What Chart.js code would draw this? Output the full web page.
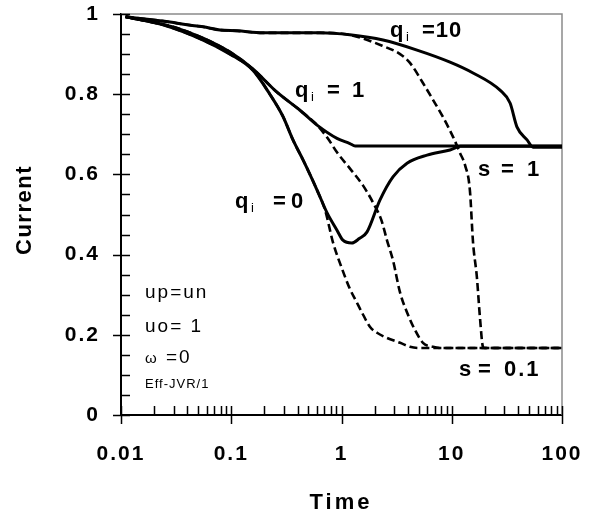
<!DOCTYPE html>
<html>
<head>
<meta charset="utf-8">
<script src="https://cdn.jsdelivr.net/npm/chart.js@4/dist/chart.umd.min.js"></script>
<style>
  html, body { margin: 0; padding: 0; background: #fff; }
  #wrap { width: 603px; height: 520px; }
</style>
</head>
<body>
<div id="wrap"><canvas id="c" width="603" height="520"></canvas></div>
<script>
// s = 1 curves (solid)
const timeS1Q0 = [0.011, 0.024, 0.0555, 0.0975, 0.157, 0.224, 0.294, 0.363, 0.448, 0.60, 0.74, 0.91, 1.03, 1.24, 1.45, 1.70, 2.23, 2.93, 3.93, 5.97, 9.64, 12, 100];
const currentS1Q0 = [0.993, 0.973, 0.935, 0.90, 0.86, 0.80, 0.745, 0.686, 0.636, 0.561, 0.504, 0.461, 0.436, 0.429, 0.44, 0.456, 0.536, 0.594, 0.628, 0.648, 0.661, 0.67, 0.67];

const timeS1Q1 = [0.011, 0.0296, 0.0555, 0.0975, 0.157, 0.26, 0.42, 0.60, 0.91, 1.19, 1.33, 100];
const currentS1Q1 = [0.993, 0.968, 0.94, 0.905, 0.863, 0.805, 0.76, 0.723, 0.69, 0.677, 0.671, 0.671];

const timeS1Q10 = [0.011, 0.0278, 0.0397, 0.0555, 0.079, 0.113, 0.194, 0.638, 1.19, 2.38, 4.84, 9.64, 15.6, 27.4, 33.8, 39.1, 48.2, 54.6, 100];
const currentS1Q10 = [0.993, 0.98, 0.973, 0.968, 0.96, 0.958, 0.953, 0.953, 0.948, 0.935, 0.91, 0.88, 0.853, 0.81, 0.778, 0.718, 0.686, 0.668, 0.668];

// s = 0.1 curves (dashed)
const timeS01Q0 = [0.011, 0.024, 0.0555, 0.0975, 0.157, 0.224, 0.294, 0.363, 0.448, 0.60, 0.71, 0.838, 1.01, 1.19, 1.38, 1.57, 1.81, 2.10, 2.59, 3.40, 4.18, 5.0, 100];
const currentS01Q0 = [0.993, 0.973, 0.935, 0.90, 0.86, 0.80, 0.745, 0.686, 0.636, 0.561, 0.511, 0.43, 0.365, 0.315, 0.28, 0.25, 0.22, 0.205, 0.192, 0.18, 0.17, 0.167, 0.167];

const timeS01Q1 = [0.011, 0.0296, 0.0555, 0.0975, 0.157, 0.26, 0.42, 0.60, 0.75, 0.91, 1.19, 1.57, 1.93, 2.30, 2.59, 2.93, 3.40, 4.01, 4.64, 5.48, 6.76, 8, 100];
const currentS01Q1 = [0.993, 0.968, 0.94, 0.905, 0.863, 0.805, 0.76, 0.723, 0.69, 0.655, 0.615, 0.572, 0.53, 0.486, 0.435, 0.386, 0.305, 0.25, 0.212, 0.18, 0.17, 0.167, 0.167];

const timeS01Q10 = [0.011, 0.0278, 0.0397, 0.0555, 0.079, 0.113, 0.194, 0.638, 1.19, 2.38, 3.40, 4.18, 5.48, 6.76, 8.33, 10.3, 11.9, 13.2, 14.6, 15.6, 16.9, 18.0, 19.2, 20, 100];
const currentS01Q10 = [0.993, 0.98, 0.973, 0.968, 0.96, 0.958, 0.953, 0.953, 0.948, 0.92, 0.90, 0.878, 0.828, 0.786, 0.743, 0.693, 0.653, 0.623, 0.561, 0.43, 0.344, 0.245, 0.17, 0.167, 0.167];

// axis ticks
const xTickValues = [0.01, 0.1, 1, 10, 100];
const xTickLabels = ['0.01', '0.1', '1', '10', '100'];
const yTickValues = [0, 0.2, 0.4, 0.6, 0.8, 1];
const yTickLabels = ['0', '0.2', '0.4', '0.6', '0.8', '1'];

const FONT = "'Liberation Sans', Arial, Helvetica, sans-serif";

function pts(ts, vs) { return ts.map((t, i) => ({ x: t, y: vs[i] })); }

function solid(ts, vs) {
  return { data: pts(ts, vs), borderColor: '#000', borderWidth: 3, pointRadius: 0,
           cubicInterpolationMode: 'monotone', fill: false };
}
function dashed(ts, vs) {
  return { data: pts(ts, vs), borderColor: '#000', borderWidth: 2.6, borderDash: [8, 4],
           pointRadius: 0, cubicInterpolationMode: 'monotone', fill: false };
}

// tick marks, frame, annotations and axis titles
const decorations = {
  id: 'decorations',
  beforeDraw(chart) {
    chart.ctx.letterSpacing = '2px';
  },
  beforeDatasetsDraw(chart) {
    const { ctx, chartArea: a } = chart;
    ctx.save();
    ctx.strokeStyle = '#8a8a8a';
    ctx.lineWidth = 1.5;
    ctx.beginPath();
    ctx.moveTo(a.left, a.top);
    ctx.lineTo(a.right, a.top);
    ctx.lineTo(a.right, a.bottom);
    ctx.stroke();
    ctx.restore();
  },
  afterDraw(chart) {
    const { ctx, chartArea: a, scales: { x, y } } = chart;
    ctx.save();
    ctx.strokeStyle = '#000';
    ctx.lineWidth = 1.5;
    ctx.beginPath();
    // y ticks every 0.05, majors every 0.2 also extend outside
    for (let k = 0; k <= 20; k++) {
      const py = Math.round(y.getPixelForValue(k * 0.05)) + 0.5;
      ctx.moveTo(a.left, py);
      ctx.lineTo(a.left + 9, py);
      if (k % 4 === 0) { ctx.moveTo(a.left - 8, py); ctx.lineTo(a.left, py); }
    }
    // x ticks at 1..9 of each decade
    for (let d = -2; d <= 2; d++) {
      for (let m = 1; m <= 9; m++) {
        if (d === 2 && m > 1) break;
        const px = Math.round(x.getPixelForValue(m * Math.pow(10, d))) + 0.5;
        ctx.moveTo(px, a.bottom);
        ctx.lineTo(px, a.bottom - 9);
        if (m === 1) { ctx.moveTo(px, a.bottom); ctx.lineTo(px, a.bottom + 9); }
      }
    }
    ctx.stroke();

    ctx.fillStyle = '#000';
    ctx.textAlign = 'left';
    ctx.textBaseline = 'alphabetic';

    const put = (txt, px, py, font, spacing) => {
      ctx.font = font;
      ctx.letterSpacing = spacing || '0px';
      ctx.fillText(txt, px, py);
    };
    const big = 'bold 22px ' + FONT;
    const sub = '13px ' + FONT;

    // q_i labels
    put('q', 390, 37, big); put('i', 406, 41, sub); put('=10', 422, 37, big, '1px');
    put('q', 295, 97, big); put('i', 311, 101, sub); put('=', 327, 97, big); put('1', 352, 97, big);
    put('q', 235, 208, big); put('i', 251, 212, sub); put('=', 273, 208, big); put('0', 291, 208, big);
    // s labels
    put('s', 478, 176, big); put('=', 501, 176, big); put('1', 527, 176, big);
    put('s', 459, 376, big); put('=', 478, 376, big); put('0.1', 504, 376, big, '2px');

    // parameter notes
    put('up=un', 145, 298, '19px ' + FONT, '2px');
    put('uo= 1', 145, 332, '19px ' + FONT, '2px');
    put('\u03c9', 145, 363, '15px ' + FONT);
    put('=0', 166, 363, '19px ' + FONT, '2px');
    put('Eff-JVR/1', 145, 388, '13px ' + FONT, '1px');

    // axis titles
    ctx.textAlign = 'center';
    ctx.textBaseline = 'middle';
    put('Time', 341, 503, 'bold 22px ' + FONT, '3px');
    ctx.translate(25, 210);
    ctx.rotate(-Math.PI / 2);
    put('Current', 0, 0, 'bold 22px ' + FONT, '1.5px');
    ctx.restore();
    ctx.letterSpacing = '0px';
  }
};

new Chart(document.getElementById('c'), {
  type: 'line',
  data: {
    datasets: [
      solid(timeS1Q0, currentS1Q0),
      solid(timeS1Q1, currentS1Q1),
      solid(timeS1Q10, currentS1Q10),
      dashed(timeS01Q0, currentS01Q0),
      dashed(timeS01Q1, currentS01Q1),
      dashed(timeS01Q10, currentS01Q10)
    ]
  },
  options: {
    responsive: false,
    animation: false,
    devicePixelRatio: 1,
    layout: { padding: { left: 0, top: 14, right: 41, bottom: 0 } },
    plugins: { legend: { display: false }, tooltip: { enabled: false } },
    scales: {
      x: {
        type: 'logarithmic',
        min: 0.01,
        max: 100,
        grid: { display: false, drawTicks: false },
        border: { display: true, color: '#000', width: 2 },
        afterBuildTicks: s => { s.ticks = xTickValues.map(v => ({ value: v, major: true })); },
        afterFit: s => { s.height = 105; s.paddingLeft = 0; s.paddingRight = 0; },
        ticks: {
          autoSkip: false,
          maxRotation: 0,
          color: '#000',
          padding: 27,
          font: { family: FONT, size: 21, weight: 'bold' },
          callback: (v) => { const i = xTickValues.indexOf(v); return i >= 0 ? xTickLabels[i] : ''; }
        }
      },
      y: {
        type: 'linear',
        min: 0,
        max: 1,
        grid: { display: false, drawTicks: false },
        border: { display: true, color: '#000', width: 2 },
        afterBuildTicks: s => { s.ticks = yTickValues.map(v => ({ value: v })); },
        afterFit: s => { s.width = 121; s.paddingTop = 0; s.paddingBottom = 0; },
        ticks: {
          color: '#000',
          padding: 21,
          font: { family: FONT, size: 21, weight: 'bold' },
          callback: (v) => { const i = yTickValues.findIndex(t => Math.abs(t - v) < 1e-9); return i >= 0 ? yTickLabels[i] : ''; }
        }
      }
    }
  },
  plugins: [decorations]
});
</script>
</body>
</html>
